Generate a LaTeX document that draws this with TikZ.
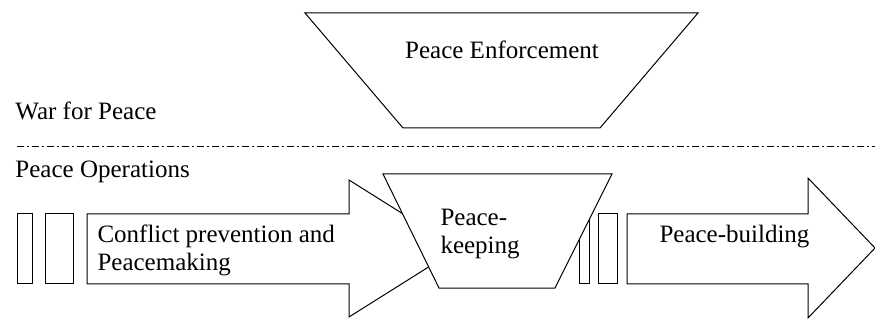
\documentclass[tikz,border=0pt]{standalone}
\usepackage{fontspec}
\setmainfont{Liberation Serif}
\begin{document}
\begin{tikzpicture}[x=1pt,y=-1pt,line width=1pt,line join=miter,
  plate/.style={draw,fill=white},
  txt/.style={inner sep=0pt,align=left,font=\fontsize{25}{28}\selectfont},
  divide/.style={dash pattern=on 7pt off 3pt on 2pt off 3pt}]
  \useasboundingbox (0,0) rectangle (875,320);
  \draw[plate] (305,13)--(698,13)--(600,128)--(403,128)--cycle;
  \node[txt,anchor=base] (enforce) at (502,59) {Peace Enforcement};
  \node[txt,anchor=base west] (war) at (15,120) {War for Peace};
  \draw[divide] (17,147)--(875,147);
  \node[txt,anchor=base west] (ops) at (15,178) {Peace Operations};
  \draw[plate] (17,214) rectangle (32,284);
  \draw[plate] (45,214) rectangle (73,284);
  \draw[plate] (87,214)--(349,214)--(349,180)--(458,248.5)--(349,317)--(349,284)--(87,284)--cycle;
  \draw[plate] (579,214) rectangle (589,284);
  \draw[plate] (598,214) rectangle (617,284);
  \draw[plate] (627,214)--(808,214)--(808,178)--(875,248)--(808,318)--(808,284)--(627,284)--cycle;
  \draw[plate] (383,174)--(612,174)--(555,288)--(439,288)--cycle;
  \node[txt,anchor=base west] (conflict) at (97,270) {Conflict prevention and\\Peacemaking};
  \node[txt,anchor=base west] (keeping) at (440,254) {Peace-\\keeping};
  \node[txt,anchor=base west] (building) at (659,243) {Peace-building};
\end{tikzpicture}
\end{document}
